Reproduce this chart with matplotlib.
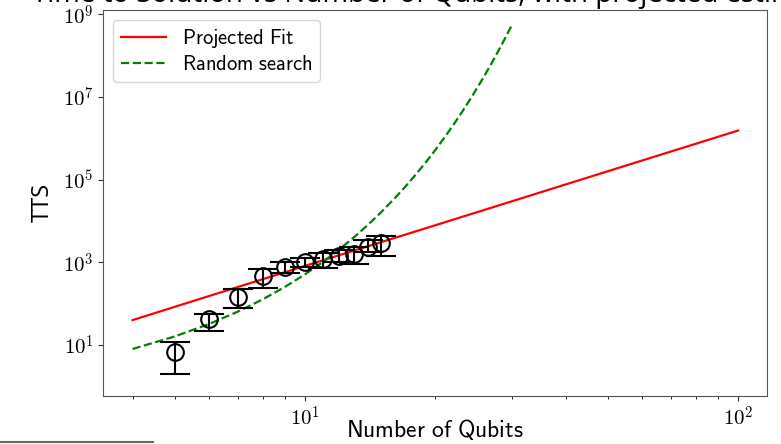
import matplotlib
matplotlib.use('Agg')
import matplotlib.pyplot as plt
from matplotlib.lines import Line2D
from matplotlib.ticker import NullLocator, NullFormatter

plt.rcParams['mathtext.fontset'] = 'cm'

# measured TTS per qubit count (centre, upper and lower end of the error bar)
qubits = [5, 6, 7, 8, 9, 10, 11, 12, 13, 14, 15]
tts = [6.9, 42, 148, 470, 760, 1000, 1230, 1460, 1620, 2400, 3000]
tts_hi = [12, 56, 224, 690, 1000, 1260, 1660, 2000, 2400, 3400, 4450]
tts_lo = [2.0, 22, 78, 235, 550, 790, 750, 1000, 910, 1780, 1450]

# projected fit
fit_n = [4, 10, 20, 50, 100]
fit_tts = [40, 820, 7900, 1.6e5, 1.55e6]

# random search
rand_n = list(range(4, 31))
rand_tts = [8, 16, 32, 64, 128, 256, 512, 1020, 2050, 4100, 8200, 16400, 32800,
            65500, 131000, 262000, 524000, 1.05e6, 2.1e6, 4.2e6, 8.4e6, 1.68e7,
            3.36e7, 6.7e7, 1.34e8, 2.68e8, 5.4e8]

ytick_vals = [1e1, 1e3, 1e5, 1e7, 1e9]
ytick_labels = [r'$10^{1}$', r'$10^{3}$', r'$10^{5}$', r'$10^{7}$', r'$10^{9}$']
xtick_vals = [10, 100]
xtick_labels = [r'$10^{1}$', r'$10^{2}$']

fig = plt.figure(figsize=(7.81, 4.44), dpi=100)
ax = fig.add_axes([0.132, 0.108, 0.850, 0.870])

ax.plot(fit_n, fit_tts, color='red', lw=1.6, label=r'$\mathsf{Projected\ Fit}$')
ax.plot(rand_n, rand_tts, color='green', ls='--', lw=1.6, label=r'$\mathsf{Random\ search}$')

yerr = [[t - lo for t, lo in zip(tts, tts_lo)], [hi - t for t, hi in zip(tts, tts_hi)]]
ax.errorbar(qubits, tts, yerr=yerr, fmt='o', color='black', mfc='none',
            ms=12, mew=1.5, elinewidth=1.5, capsize=11, capthick=1.5)

ax.set_xscale('log')
ax.set_yscale('log')
ax.set_xlim(3.42, 116.6)
ax.set_ylim(0.58, 1.3e9)

ax.set_yticks(ytick_vals)
ax.set_yticklabels(ytick_labels)
ax.yaxis.set_minor_locator(NullLocator())
ax.set_xticks(xtick_vals)
ax.set_xticklabels(xtick_labels)
ax.xaxis.set_minor_formatter(NullFormatter())
ax.tick_params(labelsize=15, colors='#333333', labelcolor='black')

for s in ax.spines.values():
    s.set_color('#555555')

ax.set_xlabel(r'$\mathsf{Number\ of\ Qubits}$', fontsize=17, labelpad=-9)
ax.set_ylabel('TTS', fontsize=17, family='Open Sans', labelpad=6)

ax.legend(loc='upper left', fontsize=14.8, handlelength=2.2, borderpad=0.35,
          labelspacing=0.2, handletextpad=0.8)

fig.text(0.557, 1 - 2 / 444, 'Time to Solution vs Number of Qubits, with projected estimate',
         ha='center', va='baseline', fontsize=20, family='Open Sans')

fig.add_artist(Line2D([0, 153 / 781], [1 - 442 / 444] * 2, color='#666666', lw=1.5))

fig.savefig('out.png', dpi=100)
